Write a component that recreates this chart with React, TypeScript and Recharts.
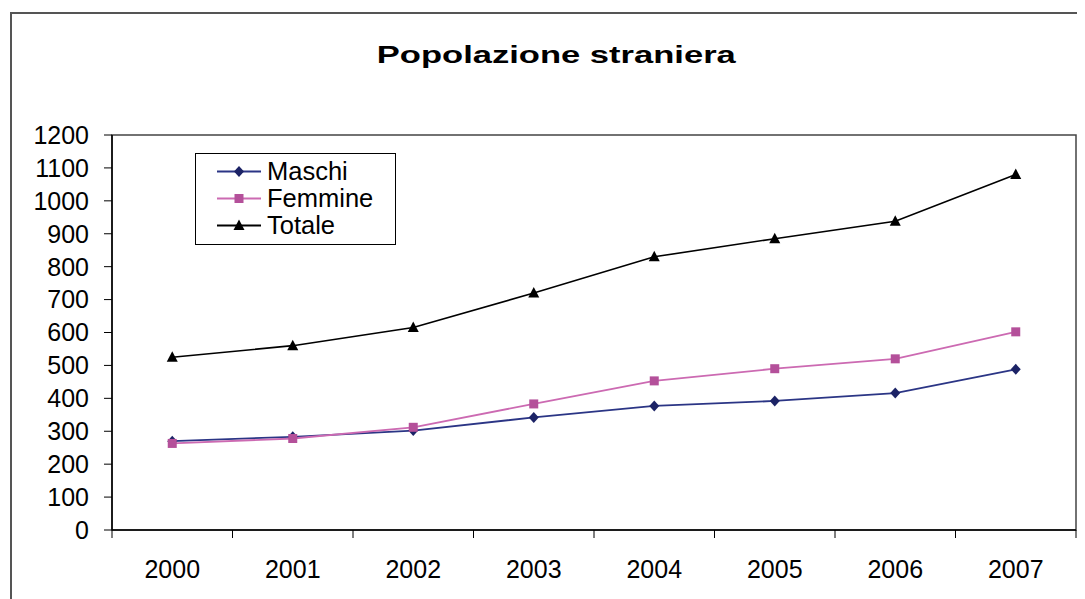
import React from 'react';
import { LineChart, Line, XAxis, YAxis, ReferenceArea, Legend } from 'recharts';

const years = ['2000', '2001', '2002', '2003', '2004', '2005', '2006', '2007'];
const maschi = [270, 283, 302, 342, 377, 392, 416, 488];
const femmine = [263, 278, 312, 383, 453, 490, 520, 602];
const totale = [525, 560, 615, 720, 830, 885, 938, 1080];
const yTicks = [0, 100, 200, 300, 400, 500, 600, 700, 800, 900, 1000, 1100, 1200];

const data = years.map((year, i) => ({
  pos: i + 0.5,
  year,
  Maschi: maschi[i],
  Femmine: femmine[i],
  Totale: totale[i],
}));
const boundaryTicks = [...years.map((_, i) => i), years.length];
const centerTicks = years.map((_, i) => i + 0.5);

const FONT = '"Liberation Sans", Arial, sans-serif';

const MASCHI_LINE = '#2B3585';
const MASCHI_MARK = '#1C2366';
const FEMMINE_LINE = '#CC6AB2';
const FEMMINE_MARK = '#B4509A';
const TOTALE = '#000000';

function diamond(cx: number, cy: number, fill: string, key?: string) {
  return <path key={key} d={`M${cx},${cy - 5.5}L${cx + 5},${cy}L${cx},${cy + 5.5}L${cx - 5},${cy}Z`} fill={fill} />;
}
function square(cx: number, cy: number, fill: string, key?: string) {
  return <rect key={key} x={cx - 4.5} y={cy - 4.5} width={9} height={9} fill={fill} />;
}
function triangle(cx: number, cy: number, fill: string, key?: string) {
  return <path key={key} d={`M${cx},${cy - 6}L${cx + 5.5},${cy + 4.5}L${cx - 5.5},${cy + 4.5}Z`} fill={fill} />;
}

const legendItems = [
  { name: 'Maschi', line: MASCHI_LINE, mark: MASCHI_MARK, shape: diamond },
  { name: 'Femmine', line: FEMMINE_LINE, mark: FEMMINE_MARK, shape: square },
  { name: 'Totale', line: TOTALE, mark: TOTALE, shape: triangle },
];

const renderLegend = () => (
  <div
    style={{
      width: 201,
      height: 92,
      boxSizing: 'border-box',
      border: '1.5px solid #000',
      background: '#fff',
      fontFamily: FONT,
      fontSize: 25.5,
      color: '#000',
      paddingTop: 4,
    }}
  >
    {legendItems.map((it) => (
      <div key={it.name} style={{ height: 27, display: 'flex', alignItems: 'center' }}>
        <svg width={70} height={27} style={{ flex: 'none' }}>
          <line x1={21} x2={65} y1={13.5} y2={13.5} stroke={it.line} strokeWidth={1.8} />
          {it.shape(43, 13.5, it.mark)}
        </svg>
        <span style={{ marginLeft: 1, lineHeight: '27px' }}>{it.name}</span>
      </div>
    ))}
  </div>
);

export default function App() {
  return (
    <div style={{ position: 'relative', width: 1077, height: 591, overflow: 'hidden', fontFamily: FONT }}>
      <div
        style={{
          position: 'absolute',
          left: 2,
          top: 4,
          width: 1200,
          height: 800,
          border: '2px solid #555',
          boxSizing: 'border-box',
        }}
      />
      <div
        style={{
          position: 'absolute',
          left: 0,
          top: 35,
          width: 1097,
          textAlign: 'center',
          fontSize: 24.5,
          lineHeight: '24px',
          fontWeight: 'bold',
          color: '#000',
        }}
      >
        <span style={{ display: 'inline-block', transform: 'scaleX(1.41)' }}>Popolazione straniera</span>
      </div>
      <LineChart width={1077} height={591} data={data} margin={{ top: 127, right: 9, bottom: 0, left: 0 }}>
        <ReferenceArea xAxisId="a" y1={0} y2={1200} fill="none" stroke="#444" strokeWidth={1.5} ifOverflow="visible" />
        <XAxis
          xAxisId="b"
          type="number"
          dataKey="pos"
          domain={[0, 8]}
          ticks={centerTicks}
          interval={0}
          tickFormatter={(v: number) => years[Math.floor(v)]}
          axisLine={false}
          tickLine={false}
          height={59}
          tickMargin={14}
          tick={{ fill: '#000', fontSize: 25, fontFamily: FONT }}
        />
        <XAxis
          xAxisId="a"
          type="number"
          dataKey="pos"
          domain={[0, 8]}
          ticks={boundaryTicks}
          interval={0}
          tickFormatter={() => ''}
          tickSize={8}
          height={10}
          stroke="#000"
          tickLine={{ stroke: '#000' }}
          axisLine={{ stroke: '#000', strokeWidth: 1.5 }}
        />
        <YAxis
          type="number"
          domain={[0, 1200]}
          ticks={yTicks}
          interval={0}
          width={104}
          tickSize={8}
          tickMargin={15}
          stroke="#000"
          axisLine={{ stroke: '#000', strokeWidth: 1.5 }}
          tickLine={{ stroke: '#000' }}
          tick={{ fill: '#000', fontSize: 25, fontFamily: FONT }}
        />
        <Legend
          layout="vertical"
          align="center"
          verticalAlign="middle"
          content={renderLegend}
          wrapperStyle={{ left: 187, top: 145, width: 201, height: 92 }}
        />
        <Line
          xAxisId="a"
          dataKey="Maschi"
          stroke={MASCHI_LINE}
          strokeWidth={1.8}
          isAnimationActive={false}
          dot={(p: any) => diamond(p.cx, p.cy, MASCHI_MARK, `m-${p.index}`)}
          activeDot={false}
        />
        <Line
          xAxisId="a"
          dataKey="Femmine"
          stroke={FEMMINE_LINE}
          strokeWidth={1.8}
          isAnimationActive={false}
          dot={(p: any) => square(p.cx, p.cy, FEMMINE_MARK, `f-${p.index}`)}
          activeDot={false}
        />
        <Line
          xAxisId="a"
          dataKey="Totale"
          stroke={TOTALE}
          strokeWidth={1.6}
          isAnimationActive={false}
          dot={(p: any) => triangle(p.cx, p.cy, TOTALE, `t-${p.index}`)}
          activeDot={false}
        />
      </LineChart>
    </div>
  );
}
